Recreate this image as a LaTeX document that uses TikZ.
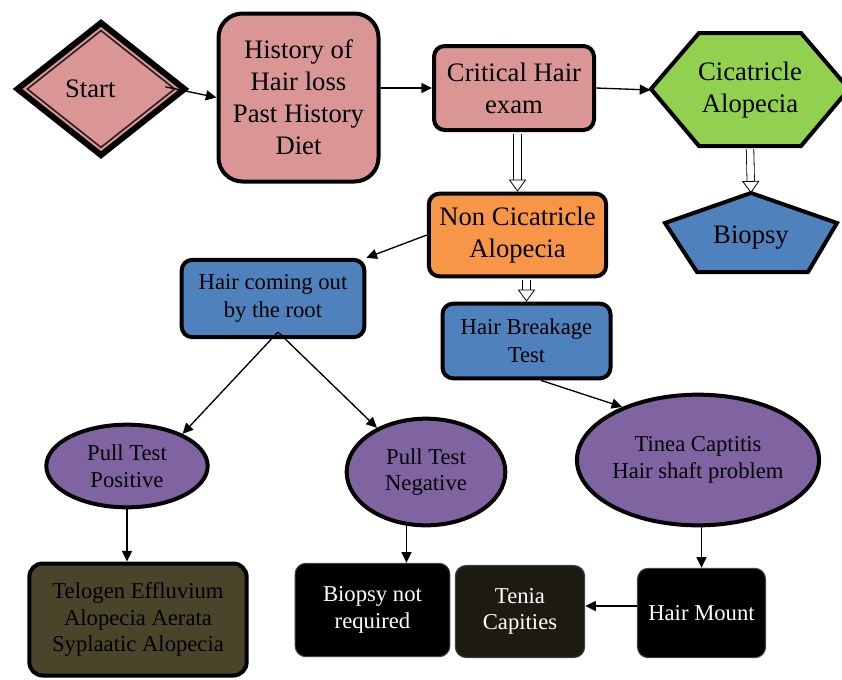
\documentclass[tikz,border=0pt]{standalone}
\usepackage{fontspec}
\setmainfont{Liberation Serif}
\usetikzlibrary{shapes.geometric,arrows.meta}

\definecolor{pinkfill}{RGB}{217,150,148}
\definecolor{greenfill}{RGB}{146,208,80}
\definecolor{bluefill}{RGB}{79,129,189}
\definecolor{orangefill}{RGB}{247,150,70}
\definecolor{purplefill}{RGB}{128,100,162}
\definecolor{olivefill}{RGB}{74,69,42}
\definecolor{darkfill}{RGB}{29,27,17}

\tikzset{
  bigtext/.style={font=\fontsize{20}{24}\selectfont, align=center},
  midtext/.style={font=\fontsize{17}{21}\selectfont, align=center},
  smalltext/.style={font=\fontsize{17}{20}\selectfont, align=center},
  box/.style={draw=black, line width=3pt, rounded corners=8pt, inner sep=0pt},
  oval/.style={ellipse, draw=black, line width=3pt, fill=purplefill, inner sep=0pt, smalltext},
  darkbox/.style={draw=black!75, line width=0.8pt, rounded corners=8pt, inner sep=0pt, text=white, smalltext},
  link/.style={line width=1pt, -{Triangle[length=8pt,width=7.5pt]}},
  hollow/.style={draw=black, line width=0.6pt, double=white, double distance=5pt,
    shorten <=1.5pt, -{Triangle[open,length=9pt,width=13pt]}},
}

\begin{document}
\begin{tikzpicture}[x=0.75pt,y=0.75pt,yscale=-1,xscale=1]

\clip (0,0) rectangle (842,679);

% Start diamond (double frame)
\node[diamond, draw=black, line width=4.5pt, fill=pinkfill, inner sep=0pt,
  minimum width=127pt, minimum height=101pt] (startframe) at (101,89) {};
\node[diamond, draw=black!80!pinkfill, line width=1.2pt, fill=pinkfill, inner sep=0pt,
  minimum width=111pt, minimum height=88pt,
  label={[bigtext,xshift=-8pt]center:Start}] (start) at (101,89) {};

% Top row
\node[box, fill=pinkfill, bigtext, rounded corners=18pt, minimum width=120pt, minimum height=126pt] (hist) at (298.5,97.5) {History of\\Hair loss\\Past History\\Diet};
\node[box, fill=pinkfill, bigtext, minimum width=120pt, minimum height=63pt] (crit) at (514,88) {Critical Hair\\exam};

% Shape: Hexagon
\draw[line width=3pt, fill=greenfill] (651,89) -- (699,33) -- (801,33) -- (849,89) -- (801,146) -- (699,146) -- cycle;
\node[bigtext, inner sep=0pt, minimum width=149pt, minimum height=85pt] (cica) at (750,90) {Cicatricle\\Alopecia};

% Shape: Pentagon
\draw[line width=3pt, fill=bluefill] (751,193) -- (837,223) -- (808,272) -- (697,272) -- (665,223) -- cycle;
\coordinate (biopsytop) at (751,193);
\node[bigtext, inner sep=0pt] (biopsy) at (751,238) {Biopsy};

% Middle row
\node[box, fill=orangefill, bigtext, minimum width=133pt, minimum height=62pt] (noncica) at (517.5,235) {Non Cicatricle\\Alopecia};
\node[box, fill=bluefill, midtext, minimum width=137pt, minimum height=58pt] (root) at (273,298.5) {Hair coming out\\by the root};
\node[box, fill=bluefill, midtext, minimum width=126pt, minimum height=56pt] (breakage) at (526.5,341) {Hair Breakage\\Test};
\coordinate (fork) at (278,332);

% Ovals
\node[oval, minimum width=121pt, minimum height=62pt] (ptpos) at (127,466) {Pull Test\\Positive};
\node[oval, minimum width=119pt, minimum height=80pt] (ptneg) at (426,472) {Pull Test\\Negative};
\node[oval, minimum width=180pt, minimum height=98pt] (tinea) at (698,460) {Tinea Captitis\\Hair shaft problem};

% Bottom row
\node[box, fill=olivefill, smalltext, rounded corners=10pt, minimum width=163pt, minimum height=84pt] (telogen) at (138,619.5) {Telogen Effluvium\\Alopecia Aerata\\Syplaatic Alopecia};
\node[darkbox, fill=black, minimum width=116pt, minimum height=70pt] (notreq) at (372.5,610) {Biopsy not\\required};
\node[darkbox, fill=darkfill, minimum width=97pt, minimum height=69pt] (tenia) at (520,611.5) {Tenia\\Capities};
\node[darkbox, fill=black, minimum width=96pt, minimum height=67pt] (mount) at (701.5,613) {Hair Mount};
\coordinate (mountleft) at (637,606);

% Connectors
\draw[link, shorten <=-8pt] (start.east) -- (hist.west);
\draw[link] (hist.east |- crit.west) -- (crit.west);
\draw[link] (crit.east) -- (cica.west);
\draw[hollow] (noncica.north |- crit.south) -- (noncica.north);
\draw[hollow] (cica.south) -- (biopsytop);
\draw[link] (noncica.west) -- (root.north east);
\draw[hollow] (breakage.north |- noncica.south) -- (breakage.north);
\draw[link] (fork) -- (ptpos.30);
\draw[link] (fork) -- (ptneg.138);
\draw[link] (breakage.-70) -- (tinea.145);
\draw[link] (ptpos.south) -- (ptpos.south |- telogen.north);
\draw[link] (ptneg.-110) -- (ptneg.-110 |- notreq.north);
\draw[link] (mount.north |- tinea.south) -- (mount.north);
\draw[link] (mountleft) -- (mountleft -| tenia.east);

\end{tikzpicture}
\end{document}
